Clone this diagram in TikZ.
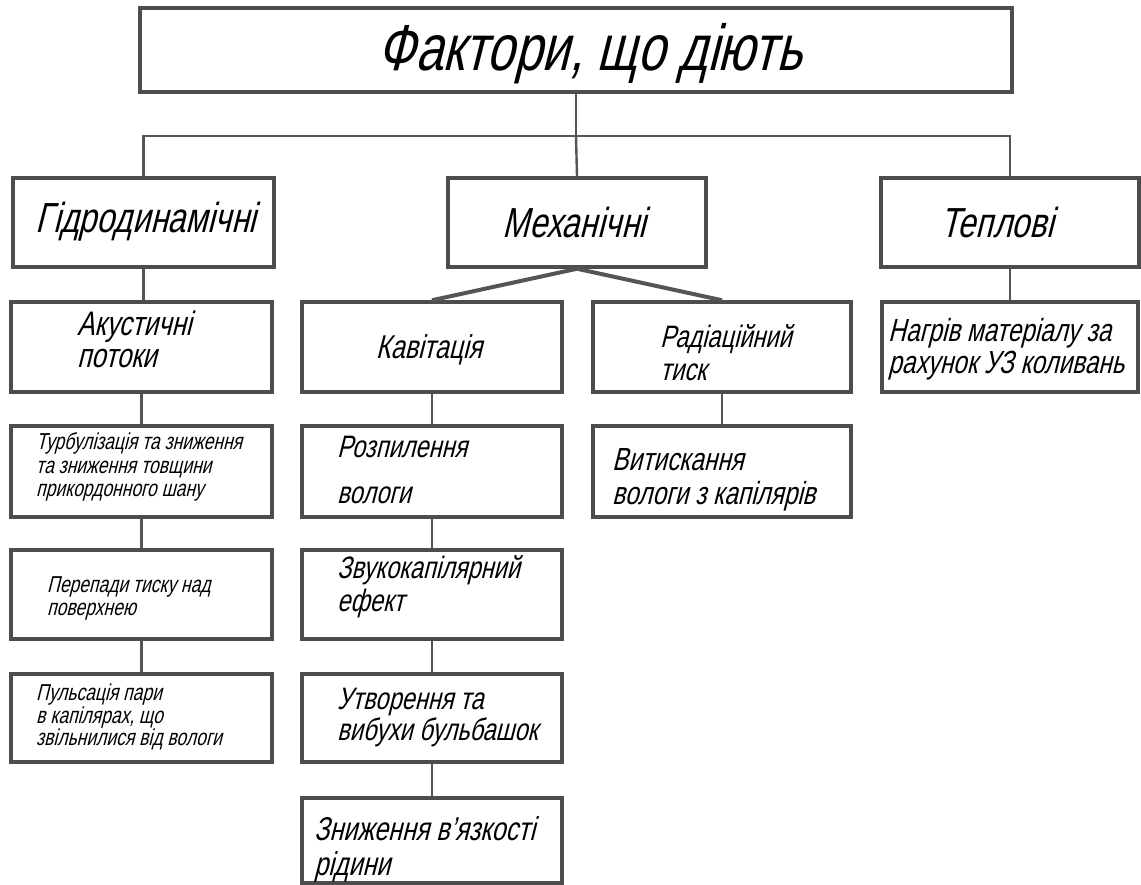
\documentclass[tikz,border=0pt]{standalone}
\usepackage{fontspec}
\newfontfamily\gost{Liberation Sans}[FakeSlant=0.25,FakeStretch=0.76]
\hyphenpenalty=10000
\exhyphenpenalty=10000
\newcommand{\fsz}[2]{\fontsize{#1}{#2}\selectfont}
\definecolor{boxline}{HTML}{4D4D4D}
\definecolor{connline}{HTML}{555555}
\begin{document}
\begin{tikzpicture}[x=1pt,y=-1pt,
  box/.style={draw=boxline, line width=3.5pt, inner sep=0pt, fill=white},
  txt/.style={inner sep=0pt, align=left, text=black},
  ctxt/.style={inner sep=0pt, align=center, text=black},
  conn/.style={draw=connline, line width=2.4pt},
  diag/.style={draw=connline, line width=4pt}]
\useasboundingbox (0,0) rectangle (1141,885);
\fill[white] (0,0) rectangle (1141,885);
\clip (0,0) rectangle (1141,885);

% boxes
\node[box, minimum width=872pt, minimum height=84pt] (top) at (576,50) {};
\node[box, minimum width=261pt, minimum height=89pt] (hyd) at (143.5,222.5) {};
\node[box, minimum width=258pt, minimum height=89pt] (mech) at (577,222.5) {};
\node[box, minimum width=258pt, minimum height=89pt] (therm) at (1010,222.5) {};
\node[box, minimum width=261pt, minimum height=90pt] (ac) at (141.5,347) {};
\node[box, minimum width=260pt, minimum height=90pt] (kav) at (432,347) {};
\node[box, minimum width=258pt, minimum height=90pt] (rad) at (722,347) {};
\node[box, minimum width=256pt, minimum height=90pt] (heat) at (1010,347) {};
\node[box, minimum width=261pt, minimum height=91pt] (turb) at (141.5,471.5) {};
\node[box, minimum width=260pt, minimum height=91pt] (rozp) at (432,471.5) {};
\node[box, minimum width=258pt, minimum height=91pt] (vyt) at (722,471.5) {};
\node[box, minimum width=261pt, minimum height=89pt] (perep) at (141.5,594.5) {};
\node[box, minimum width=260pt, minimum height=89pt] (zvuk) at (432,594.5) {};
\node[box, minimum width=261pt, minimum height=88pt] (puls) at (141.5,718) {};
\node[box, minimum width=260pt, minimum height=88pt] (utv) at (432,718) {};
\node[box, minimum width=260pt, minimum height=85pt] (znyzh) at (432,840.5) {};

% texts
\node[ctxt, font=\gost\fsz{65}{66}] (top-t) at (590,54) {Фактори, що діють};
\node[ctxt, font=\gost\fsz{42}{43}] (hyd-t) at (146,222) {Гідродинамічні};
\node[ctxt, font=\gost\fsz{42}{43}] (mech-t) at (574,222) {Механічні};
\node[ctxt, font=\gost\fsz{42}{43}] (therm-t) at (997,222) {Теплові};
\node[txt, anchor=west, font=\gost\fsz{34}{32}] (ac-t) at (77,339) {Акустичні\\потоки};
\node[ctxt, font=\gost\fsz{33}{34}] (kav-t) at (429,350) {Кавітація};
\node[txt, anchor=west, font=\gost\fsz{31}{33}] (rad-t) at (660,353) {Радіаційний\\тиск};
\node[txt, anchor=west, font=\gost\fsz{32}{32}] (heat-t) at (888,349) {Нагрів матеріалу за\\рахунок УЗ коливань};
\node[txt, anchor=west, font=\gost\fsz{23}{23.5}] (turb-t) at (36,467) {Турбулізація та зниження\\та зниження товщини\\прикордонного шану};
\node[txt, anchor=west, font=\gost\fsz{31}{46}] (rozp-t) at (337,470) {Розпилення\\вологи};
\node[txt, anchor=west, font=\gost\fsz{32}{34}] (vyt-t) at (612,480) {Витискання\\вологи з капілярів};
\node[txt, anchor=west, font=\gost\fsz{23}{23}] (perep-t) at (47,598) {Перепади тиску над\\поверхнею};
\node[txt, anchor=west, font=\gost\fsz{31}{33}] (zvuk-t) at (337,587) {Звукокапілярний\\ефект};
\node[txt, anchor=west, font=\gost\fsz{23}{22.5}] (puls-t) at (36,717) {Пульсація пари\\в капілярах, що\\звільнилися від вологи};
\node[txt, anchor=west, font=\gost\fsz{31}{31}] (utv-t) at (337,718) {Утворення та\\вибухи бульбашок};
\node[txt, anchor=west, font=\gost\fsz{33}{35}] (znyzh-t) at (314,849) {Зниження в’язкості\\рідини};

% connectors
\coordinate (bus) at (576,136);
\draw[conn] (top.south) -- (bus);
\draw[conn] (hyd.north) |- (bus) -| (therm.north);
\draw[conn] (bus) -- (mech.north);
\draw[conn] (hyd.south) -- (hyd.south |- ac.north);
\draw[conn] (ac.south) -- (turb.north);
\draw[conn] (turb.south) -- (perep.north);
\draw[conn] (perep.south) -- (puls.north);
\draw[diag] (mech.south) -- (kav.north);
\draw[diag] (mech.south) -- (rad.north);
\draw[conn] (kav.south) -- (rozp.north);
\draw[conn] (rozp.south) -- (zvuk.north);
\draw[conn] (zvuk.south) -- (utv.north);
\draw[conn] (utv.south) -- (znyzh.north);
\draw[conn] (rad.south) -- (vyt.north);
\draw[conn] (therm.south) -- (heat.north);
\end{tikzpicture}
\end{document}
